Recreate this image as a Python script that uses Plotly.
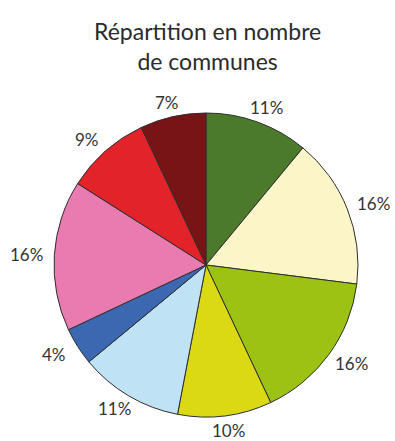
import math
import plotly.graph_objects as go

# Share of communes per category (percent), clockwise from 12 o'clock
categories = ["Cat. 1", "Cat. 2", "Cat. 3", "Cat. 4", "Cat. 5",
              "Cat. 6", "Cat. 7", "Cat. 8", "Cat. 9"]
values = [11, 16, 16, 10, 11, 4, 16, 9, 7]
colors = ["#4b7a2b", "#fbf5c8", "#9cc213", "#dbd914", "#bfe3f5",
          "#3c68b2", "#e97bb0", "#e3232a", "#781416"]
title_text = "Répartition en nombre<br>de communes"

W, H = 395, 441
margin = dict(l=54, r=37, t=113, b=24)
plot_w = W - margin["l"] - margin["r"]
plot_h = H - margin["t"] - margin["b"]
FONT = "Lato, Open Sans, sans-serif"


def to_paper(px, py):
    """Convert pixel coordinates of the page into paper coordinates."""
    return (px - margin["l"]) / plot_w, 1 - (py - margin["t"]) / plot_h


fig = go.Figure(go.Pie(
    labels=categories,
    values=values,
    sort=False,
    direction="clockwise",
    rotation=0,
    marker=dict(colors=colors, line=dict(color="#2e2e2e", width=1)),
    textinfo="none",
    hoverinfo="label+percent",
    showlegend=False,
))

# Percentage labels outside each slice: the label box sits a fixed gap
# beyond the rim, pushed outward along the slice bisector.
radius_px = min(plot_w, plot_h) / 2
gap = 11
half_w, half_h = 17, 4
cx = margin["l"] + plot_w / 2
cy = margin["t"] + plot_h / 2
total = sum(values)
cum = 0
annotations = []
for v in values:
    theta = 2 * math.pi * (cum + v / 2) / total
    cum += v
    s, c = math.sin(theta), math.cos(theta)
    px = cx + (radius_px + gap) * s + half_w * s
    py = cy - (radius_px + gap) * c - half_h * c
    x, y = to_paper(px, py)
    annotations.append(dict(
        x=x, y=y, xref="paper", yref="paper",
        text=f"{round(100 * v / total)}%",
        showarrow=False,
        xanchor="center", yanchor="middle",
        font=dict(family=FONT, size=17, color="#333333"),
    ))

# Two-line chart title above the pie
tx, ty = to_paper(207.5, 46)
annotations.append(dict(
    x=tx, y=ty, xref="paper", yref="paper",
    text=title_text,
    showarrow=False,
    xanchor="center", yanchor="middle",
    align="center",
    font=dict(family=FONT, size=23, color="#2b2b2b"),
))

fig.update_layout(
    width=W, height=H,
    margin=margin,
    paper_bgcolor="white",
    plot_bgcolor="white",
    annotations=annotations,
)

fig.write_html("out.html")
